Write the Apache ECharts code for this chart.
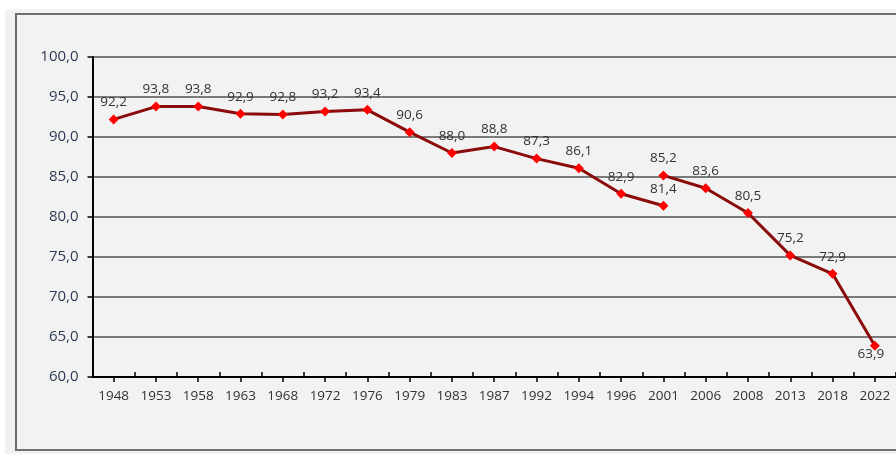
<!DOCTYPE html>
<html>
<head>
<meta charset="utf-8">
<script src="https://cdn.jsdelivr.net/npm/echarts@6/dist/echarts.min.js"></script>
<style>
  html,body{margin:0;padding:0;background:#fff;}
  #chart{width:896px;height:454px;}
</style>
</head>
<body>
<div id="chart"></div>
<script>
// years on the x axis
const years = ['1948','1953','1958','1963','1968','1972','1976','1979','1983','1987','1992','1994','1996','2001','2006','2008','2013','2018','2022']
// first run of the line, up to 2001
const seriesA = [92.2,93.8,93.8,92.9,92.8,93.2,93.4,90.6,88.0,88.8,87.3,86.1,82.9,81.4,null,null,null,null,null]
// second run, restarting at 2001
const seriesB = [null,null,null,null,null,null,null,null,null,null,null,null,null,85.2,83.6,80.5,75.2,72.9,63.9]
// which points have the label below
const labelBelow = ['2022']

const comma = v => v.toFixed(1).replace('.', ',')
const font = 'Open Sans'

let myChart = echarts.init(document.getElementById('chart'))

function lineSeries(name, data){
    return {
        name: name,
        type: 'line',
        data: data.map((v, i) => v === null ? '-' : {
            value: v,
            label: labelBelow.indexOf(years[i]) >= 0 ? {position: 'bottom', distance: 0, offset: [-4, -4]} : undefined
        }),
        connectNulls: false,
        symbol: 'diamond',
        symbolSize: 10,
        itemStyle: {color: '#ff0000'},
        lineStyle: {color: '#8b0a0a', width: 3},
        label: {
            show: true,
            position: 'top',
            distance: 5,
            color: '#333',
            fontFamily: font,
            fontSize: 13.5,
            formatter: p => comma(p.value)
        },
        z: 5
    }
}

let option = {
    animation: false,
    backgroundColor: '#ffffff',
    graphic: [
        {type: 'rect', shape: {x: 5, y: 9, width: 900, height: 450}, style: {fill: '#f2f2f2'}, silent: true, z: -10},
        {type: 'rect', shape: {x: 16, y: 14, width: 900, height: 436}, style: {fill: 'none', stroke: '#6e6e6e', lineWidth: 2}, silent: true, z: -9}
    ],
    grid: {left: 92.5, right: 0, top: 57, bottom: 77},
    xAxis: [
        {
            type: 'category',
            data: years,
            boundaryGap: true,
            axisLine: {show: true, lineStyle: {color: '#000', width: 2}},
            axisTick: {show: true, inside: true, length: 5, interval: 0, lineStyle: {color: '#000', width: 1.5}},
            axisLabel: {interval: 0, margin: 12, color: '#333', fontFamily: font, fontSize: 13.5},
            splitLine: {show: false}
        },
        {
            type: 'category',
            data: years,
            position: 'bottom',
            boundaryGap: true,
            axisLine: {show: false},
            axisTick: {show: true, alignWithLabel: true, length: 5, interval: 0, lineStyle: {color: '#000', width: 1.5}},
            axisLabel: {show: false},
            splitLine: {show: false}
        }
    ],
    yAxis: {
        type: 'value',
        min: 60,
        max: 100,
        interval: 5,
        axisLine: {show: true, lineStyle: {color: '#000', width: 2}},
        axisTick: {show: true, length: 5, lineStyle: {color: '#000', width: 1.5}},
        axisLabel: {margin: 14, color: '#2f3b55', fontFamily: font, fontSize: 15, formatter: v => comma(v)},
        splitLine: {show: true, lineStyle: {color: '#7a7a7a', width: 2}}
    },
    series: [
        lineSeries('a', seriesA),
        lineSeries('b', seriesB)
    ]
}
myChart.setOption(option)
</script>
</body>
</html>
